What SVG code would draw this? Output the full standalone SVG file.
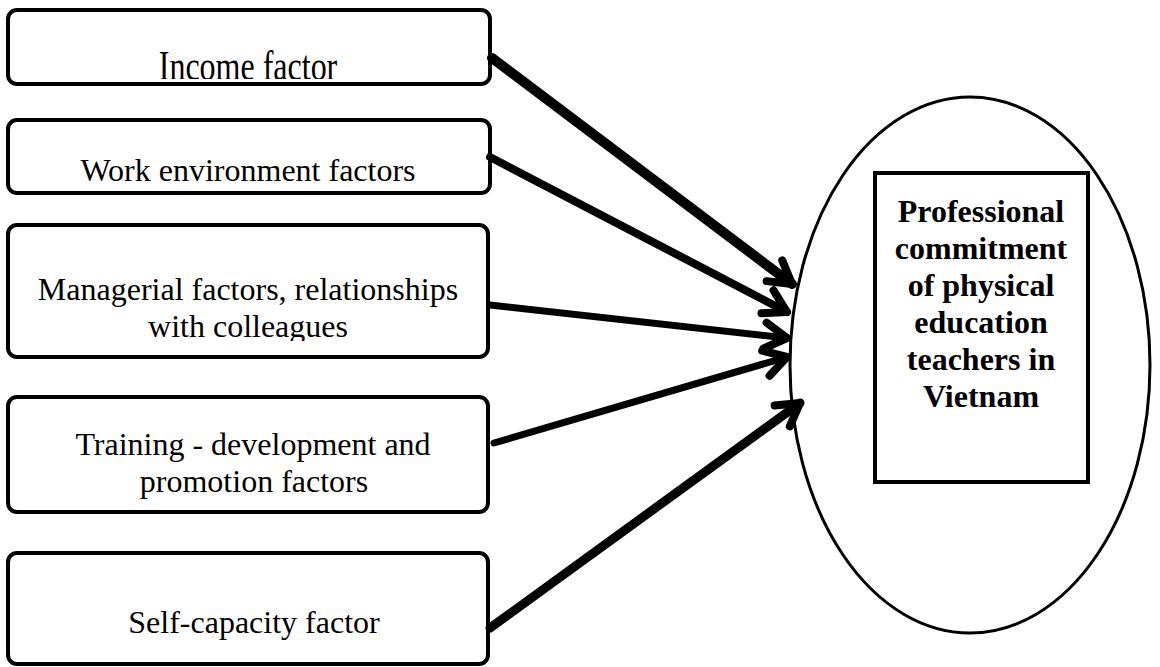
<svg xmlns="http://www.w3.org/2000/svg" width="1160" height="667" viewBox="0 0 1160 667">
<style>
.box{fill:#fff;stroke:#000;stroke-width:4}
.t{font-family:"Liberation Serif","Times New Roman",serif;font-size:32px;fill:#000;text-anchor:middle}
.b{font-family:"Liberation Serif","Times New Roman",serif;font-size:32px;font-weight:bold;fill:#000;text-anchor:middle}
.c{fill:none;stroke:#000;stroke-linecap:round;stroke-linejoin:round}
</style>
<defs>
<marker id="ah" markerUnits="userSpaceOnUse" markerWidth="40" markerHeight="40" refX="0" refY="0" viewBox="-30 -20 40 40" orient="auto" overflow="visible">
<path d="M-22,-13 L0,0 L-22,13" fill="none" stroke="#000" stroke-width="8" stroke-linecap="round" stroke-linejoin="round"/>
</marker>
<clipPath id="c1"><rect x="0" y="0" width="500" height="79"/></clipPath>
<clipPath id="c3"><rect x="0" y="220" width="500" height="121"/></clipPath>
</defs>
<g id="target">
<ellipse cx="970" cy="365" rx="180" ry="268" fill="#fff" stroke="#000" stroke-width="3"/>
<rect x="875" y="173" width="213" height="309" fill="#fff" stroke="#000" stroke-width="4"/>
<text class="b" x="981"><tspan x="981" y="222">Professional</tspan><tspan x="981" y="259">commitment</tspan><tspan x="981" y="296">of physical</tspan><tspan x="981" y="333">education</tspan><tspan x="981" y="370">teachers in</tspan><tspan x="981" y="407">Vietnam</tspan></text>
</g>
<g id="n1">
<rect class="box" x="8" y="10" width="482" height="74" rx="9"/>
<g clip-path="url(#c1)"><text class="t" transform="translate(248,80) scale(1,1.3)">Income factor</text></g>
</g>
<g id="n2">
<rect class="box" x="8" y="120" width="482" height="73" rx="9"/>
<text class="t" x="248" y="181">Work environment factors</text>
</g>
<g id="n3">
<rect class="box" x="8" y="225" width="480" height="132" rx="9"/>
<g clip-path="url(#c3)"><text class="t" x="248" y="300">Managerial factors, relationships</text><text class="t" x="248" y="337">with colleagues</text></g>
</g>
<g id="n4">
<rect class="box" x="8" y="397" width="480" height="115" rx="9"/>
<text class="t" x="253" y="455">Training - development and</text>
<text class="t" x="254" y="492">promotion factors</text>
</g>
<g id="n5">
<rect class="box" x="8" y="553" width="480" height="111" rx="9"/>
<text class="t" x="254" y="633">Self-capacity factor</text>
</g>
<g id="connectors">
<path class="c" d="M492,58 L792,284" stroke-width="10" marker-end="url(#ah)"/>
<path class="c" d="M490,157 L787,312" stroke-width="8" marker-end="url(#ah)"/>
<path class="c" d="M490,305 L787,338" stroke-width="7" marker-end="url(#ah)"/>
<path class="c" d="M494,443 L787,357" stroke-width="7" marker-end="url(#ah)"/>
<path class="c" d="M490,628 L800,403" stroke-width="9" marker-end="url(#ah)"/>
</g>
</svg>
